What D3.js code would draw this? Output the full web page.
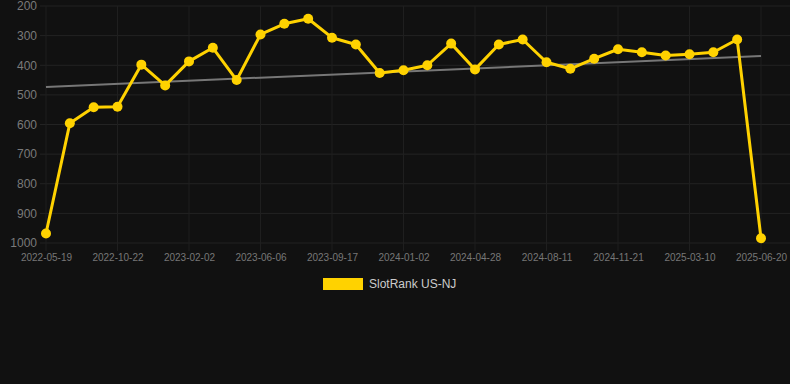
<!DOCTYPE html>
<html>
<head>
<meta charset="utf-8">
<script src="https://cdn.jsdelivr.net/npm/d3@7"></script>
<style>
  html, body { margin: 0; padding: 0; background: #111111; }
  svg { display: block; font-family: "Liberation Sans", Arial, sans-serif; }
</style>
</head>
<body>
<div id="chart-container"></div>
<script>
const width = 790;
const height = 384;
const margin = { top: 6, left: 46, right: 29, bottom: 141 };

// ranks, one per point (31 points, labels every 3rd)
const rankValues = [968, 596, 542, 540, 398, 468, 387, 341, 450, 296,
  260, 243, 307, 330, 426, 417, 400, 327, 414, 330,
  313, 390, 412, 378, 346, 356, 367, 363, 356, 313, 984];
const tickLabels = ["2022-05-19", "2022-10-22", "2023-02-02", "2023-06-06", "2023-09-17",
  "2024-01-02", "2024-04-28", "2024-08-11", "2024-11-21", "2025-03-10", "2025-06-20"];
const yTicks = [200, 300, 400, 500, 600, 700, 800, 900, 1000];
const trendValues = [473, 369]; // start / end of the gray trend line
const seriesName = "SlotRank US-NJ";

const lineColor = "#ffd200";

const svg = d3.select("#chart-container").append("svg")
  .attr("width", width)
  .attr("height", height);

const idx = d3.range(rankValues.length);

//Defines the scales
const x = d3.scalePoint()
  .domain(idx)
  .range([margin.left, width - margin.right]);

const y = d3.scaleLinear()
  .domain([200, 1000])
  .range([margin.top, height - margin.bottom]);

// grid
let gGrid = svg.append("g");
gGrid.selectAll(".hgrid")
  .data(yTicks)
  .enter().append("line")
  .attr("class", "hgrid")
  .attr("x1", 40)
  .attr("x2", width)
  .attr("y1", d => y(d))
  .attr("y2", d => y(d))
  .attr("stroke", "#232323")
  .attr("stroke-width", 1);

const tickIdx = idx.filter(i => i % 3 === 0);
gGrid.selectAll(".vgrid")
  .data(tickIdx)
  .enter().append("line")
  .attr("class", "vgrid")
  .attr("x1", d => x(d))
  .attr("x2", d => x(d))
  .attr("y1", margin.top)
  .attr("y2", height - margin.bottom + 8)
  .attr("stroke", "#1f1f1f")
  .attr("stroke-width", 1);

// axes
const yAxis = g => g
  .attr("transform", `translate(37,0)`)
  .call(d3.axisLeft(y).tickValues(yTicks).tickSize(0).tickPadding(0).tickFormat(d3.format("d")))
  .call(g => g.select(".domain").remove())
  .call(g => g.selectAll("text")
    .attr("fill", "#7a7a7a")
    .style("font-size", "12px")
    .style("font-family", "Liberation Sans, Arial, sans-serif"));

const xAxis = g => g
  .attr("transform", `translate(0,${height - margin.bottom})`)
  .call(d3.axisBottom(x).tickValues(tickIdx).tickSize(0).tickPadding(11)
    .tickFormat(d => tickLabels[d / 3]))
  .call(g => g.select(".domain").remove())
  .call(g => g.selectAll("text")
    .attr("fill", "#777")
    .style("font-size", "10px")
    .style("font-family", "Liberation Sans, Arial, sans-serif"));

svg.append("g").call(yAxis);
svg.append("g").call(xAxis);

// trend line
svg.append("line")
  .attr("x1", x(0))
  .attr("x2", x(idx.length - 1))
  .attr("y1", y(trendValues[0]))
  .attr("y2", y(trendValues[1]))
  .attr("stroke", "#777")
  .attr("stroke-width", 2);

// series line
const line = d3.line()
  .x((d, i) => x(i))
  .y(d => y(d));

svg.append("path")
  .datum(rankValues)
  .attr("d", line)
  .attr("fill", "none")
  .attr("stroke", lineColor)
  .attr("stroke-width", 3)
  .attr("stroke-linejoin", "round");

svg.append("g").selectAll("circle")
  .data(rankValues)
  .enter().append("circle")
  .attr("cx", (d, i) => x(i))
  .attr("cy", d => y(d))
  .attr("r", 5)
  .attr("fill", lineColor);

// legend
let gLegend = svg.append("g");
gLegend.append("rect")
  .attr("x", 323)
  .attr("y", 278)
  .attr("width", 40)
  .attr("height", 12)
  .attr("fill", lineColor);
gLegend.append("text")
  .attr("x", 369)
  .attr("y", 284)
  .attr("dy", "0.35em")
  .attr("fill", "#ccc")
  .style("font-size", "12px")
  .text(seriesName);
</script>
</body>
</html>
